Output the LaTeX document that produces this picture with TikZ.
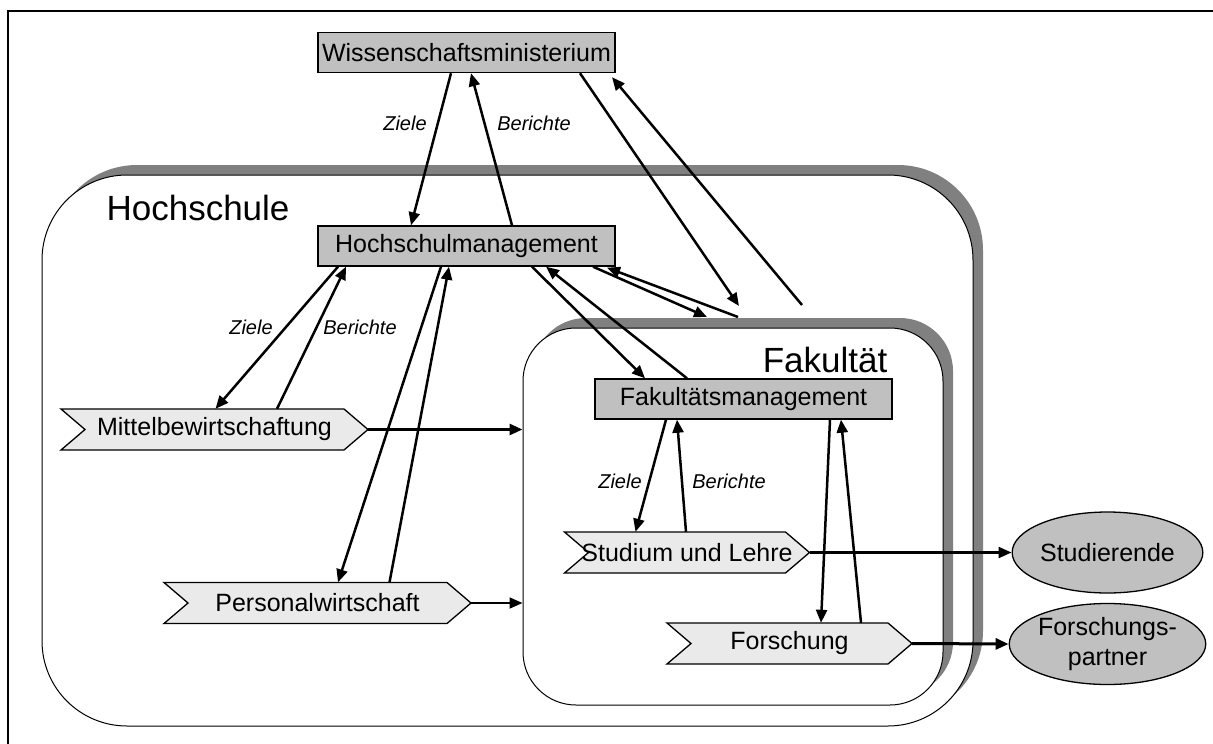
\documentclass[tikz,border=0pt]{standalone}
\usepackage{fontspec}
\setmainfont{Liberation Sans}
\usepackage{tikz}
\usetikzlibrary{positioning,arrows.meta,shapes.geometric,shadows}

\definecolor{boxgray}{HTML}{C0C0C0}
\definecolor{chevgray}{HTML}{EAEAEA}
\definecolor{shadowgray}{HTML}{808080}

% chevron: name, left x, middle y, total width, text
\newcommand{\chevron}[5]{%
  \draw[chev] (#2,#3-20.5) -- ++(#4-24,0) -- ++(24,20.5) -- ++(-24,20.5)
    -- ++(-#4+24,0) -- ++(24,-20.5) -- cycle;
  \node[chevtext, minimum width=#4] (#1) at (#2+#4/2,#3) {#5};
}

\begin{document}
\begin{tikzpicture}[x=1pt,y=-1pt,
  box/.style={draw, fill=boxgray, line width=1.4pt, minimum width=297pt,
    minimum height=40pt, inner sep=0pt, font=\fontsize{25}{30}\selectfont},
  chev/.style={draw, fill=chevgray, line width=1.3pt},
  chevtext/.style={minimum height=41pt, inner sep=0pt,
    font=\fontsize{25}{30}\selectfont},
  unit/.style={draw, fill=white, line width=1pt, inner sep=0pt,
    general shadow={fill=shadowgray, shadow xshift=10pt, shadow yshift=10pt}},
  party/.style={ellipse, draw, fill=boxgray, line width=1.3pt, inner sep=0pt,
    minimum width=163pt, minimum height=81pt, align=center,
    font=\fontsize{25}{30}\selectfont},
  flow/.style={-{Triangle[length=13pt,width=11pt]}, line width=2.5pt},
  lbl/.style={font=\fontsize{20}{24}\selectfont\itshape},
  title/.style={font=\fontsize{35}{42}\selectfont}]
\useasboundingbox (0,0) rectangle (1213,744);
\draw[line width=2pt] (8,744) -- (8,11) -- (1213,11);

% the two units
\node[unit, rounded corners=85pt, minimum width=931pt, minimum height=551pt]
  (hs) at (507.5,450.5) {};
\node[title] (hstitle) at (198,208) {Hochschule};
\node[unit, rounded corners=53pt, minimum width=420pt, minimum height=377pt]
  (fak) at (733,516.5) {};
\node[title] (faktitle) at (825,360) {Fakultät};

% management boxes
\node[box] (wiss) at (466.5,52.5) {Wissenschaftsministerium};
\node[box] (hm) at (466.5,246) {Hochschulmanagement};
\node[box] (fm) at (743.5,399) {Fakultätsmanagement};

% processes
\chevron{mittel}{61}{429.5}{307}{Mittelbewirtschaftung}
\chevron{personal}{164}{603}{307}{Personalwirtschaft}
\chevron{studium}{564.5}{552.5}{245}{Studium und Lehre}
\chevron{forschung}{667}{643.5}{245}{Forschung}

% partners
\node[party] (stud) at (1107.5,552.5) {Studierende};
\node[party] (fp) at (1107.5,644) {Forschungs-\\partner};

% labels
\node[lbl] (ziele1) at (405,123) {Ziele};
\node[lbl] (ber1) at (534,123) {Berichte};
\node[lbl] (ziele2) at (251,327) {Ziele};
\node[lbl] (ber2) at (360,327) {Berichte};
\node[lbl] (ziele3) at (620,481) {Ziele};
\node[lbl] (ber3) at (729,481) {Berichte};

\coordinate (wf) at (739,306);
\coordinate (fw) at (802,305);
\coordinate (hf) at (707,317);
\coordinate (fh) at (738,317);

% ministry
\draw[flow] ([xshift=-15.5pt]wiss.south) -- ([xshift=-55.5pt]hm.north);
\draw[flow] ([xshift=45.5pt]hm.north) -- ([xshift=4.5pt]wiss.south);
\draw[flow] ([xshift=113.5pt]wiss.south) -- (wf);
\draw[flow] (fw) -- ([xshift=145.5pt,yshift=-4pt]wiss.south);

% university management
\draw[flow] ([xshift=126.5pt]hm.south) -- (hf);
\draw[flow] (fh) -- ([xshift=140.5pt,yshift=-1pt]hm.south);
\draw[flow] ([xshift=65.5pt]hm.south) -- ([xshift=-98.5pt]fm.north);
\draw[flow] ([xshift=-56.5pt]fm.north) -- ([xshift=79.5pt]hm.south);
\draw[flow] ([xshift=-128.5pt]hm.south) -- ([xshift=1pt]mittel.north);
\draw[flow] ([xshift=62.5pt]mittel.north) -- ([xshift=-120.5pt]hm.south);
\draw[flow] ([xshift=-25.5pt]hm.south) -- ([xshift=20.5pt]personal.north);
\draw[flow] ([xshift=72pt]personal.north) -- ([xshift=-17.5pt]hm.south);
\draw[flow, line width=2.8pt] (mittel.east) -- (mittel.east -| fak.west);
\draw[flow, line width=1.8pt] (personal.east) -- (personal.east -| fak.west);

% faculty management
\draw[flow] ([xshift=-77.5pt]fm.south) -- ([xshift=-51.5pt]studium.north);
\draw[flow] ([xshift=-1pt]studium.north) -- ([xshift=-66.5pt]fm.south);
\draw[flow] ([xshift=86.5pt]fm.south) -- ([xshift=31.5pt]forschung.north);
\draw[flow] ([xshift=71.5pt]forschung.north) -- ([xshift=97.5pt]fm.south);
\draw[flow, line width=2.2pt] (studium.east) -- (stud.west);
\draw[flow, line width=3pt] (forschung.east) -- (fp.west);
\end{tikzpicture}
\end{document}
